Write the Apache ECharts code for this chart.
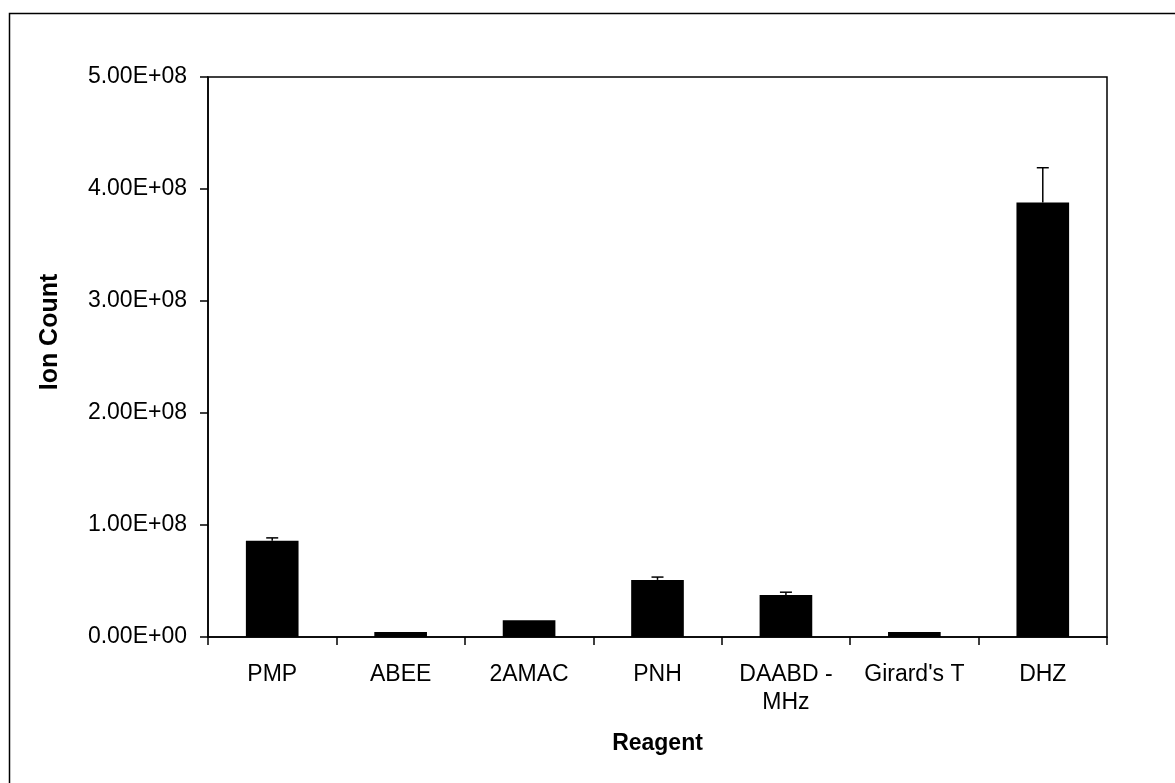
<!DOCTYPE html>
<html>
<head>
<meta charset="utf-8">
<script src="https://cdn.jsdelivr.net/npm/echarts@6/dist/echarts.min.js"></script>
<style>
  html, body { margin: 0; padding: 0; background: #fff; }
  #chart { width: 1175px; height: 783px; }
</style>
</head>
<body>
<div id="chart"></div>
<script>
// Reagents tested and their mean ion counts with upper error (SD)
const categories = ['PMP', 'ABEE', '2AMAC', 'PNH', 'DAABD -\nMHz', "Girard's T", 'DHZ'];
const ionCounts = [8.6e7, 4.5e6, 1.5e7, 5.1e7, 3.75e7, 4.5e6, 3.88e8];
const errors = [2.5e6, 0, 0, 2.5e6, 2.5e6, 0, 3.1e7];
const yTicks = [0, 1e8, 2e8, 3e8, 4e8, 5e8];

const FONT = '"Liberation Sans", Arial, sans-serif';

const chart = echarts.init(document.getElementById('chart'), null, { renderer: 'canvas' });

function fmtSci(v) {
  if (v === 0) return '0.00E+00';
  const exp = Math.floor(Math.log10(v));
  const mant = v / Math.pow(10, exp);
  return mant.toFixed(2) + 'E+' + String(exp).padStart(2, '0');
}

chart.setOption({
  animation: false,
  backgroundColor: '#ffffff',
  graphic: [
    {
      type: 'rect',
      shape: { x: 9.5, y: 13.5, width: 1200, height: 800 },
      style: { fill: 'none', stroke: '#000', lineWidth: 1.5 },
      silent: true
    },
    {
      // y-axis title
      type: 'text',
      x: 50, y: 332,
      rotation: Math.PI / 2,
      style: {
        text: 'Ion Count',
        font: 'bold 25px ' + FONT,
        fill: '#000',
        align: 'center',
        verticalAlign: 'middle'
      },
      silent: true
    }
  ],
  grid: { left: 208, top: 77, right: 68, bottom: 146, containLabel: false,
          show: true, borderColor: '#000', borderWidth: 1.5 },
  xAxis: {
    type: 'category',
    data: categories,
    name: 'Reagent',
    nameLocation: 'middle',
    nameGap: 95,
    nameTextStyle: { fontFamily: FONT, fontSize: 23, fontWeight: 'bold', color: '#000' },
    axisLine: { lineStyle: { color: '#000', width: 1.5 } },
    axisTick: { show: true, length: 8, alignWithLabel: false, lineStyle: { color: '#000', width: 1.5 } },
    axisLabel: { fontFamily: FONT, fontSize: 23, color: '#000', margin: 24, lineHeight: 28, interval: 0 },
    splitLine: { show: false }
  },
  yAxis: {
    type: 'value',
    min: 0, max: 5e8, interval: 1e8,
    axisLine: { show: true, lineStyle: { color: '#000', width: 1.5 } },
    axisTick: { show: true, length: 8, lineStyle: { color: '#000', width: 1.5 } },
    axisLabel: { fontFamily: FONT, fontSize: 23, color: '#000', margin: 21,
                 formatter: v => yTicks.includes(v) ? fmtSci(v) : '' },
    splitLine: { show: false }
  },
  series: [
    {
      type: 'bar',
      data: ionCounts,
      barWidth: '41%',
      itemStyle: { color: '#000' },
      z: 2
    },
    {
      type: 'custom',
      z: 3,
      data: ionCounts.map((v, i) => [i, v, v + errors[i]]),
      renderItem: function (params, api) {
        const err = api.value(2) - api.value(1);
        if (err <= 0) return null;
        const base = api.coord([api.value(0), api.value(1)]);
        const top = api.coord([api.value(0), api.value(2)]);
        const half = 6;
        return {
          type: 'group',
          children: [
            { type: 'line', shape: { x1: base[0], y1: base[1], x2: top[0], y2: top[1] },
              style: { stroke: '#000', lineWidth: 1.5 } },
            { type: 'line', shape: { x1: top[0] - half, y1: top[1], x2: top[0] + half, y2: top[1] },
              style: { stroke: '#000', lineWidth: 1.5 } }
          ]
        };
      }
    }
  ]
});
</script>
</body>
</html>
